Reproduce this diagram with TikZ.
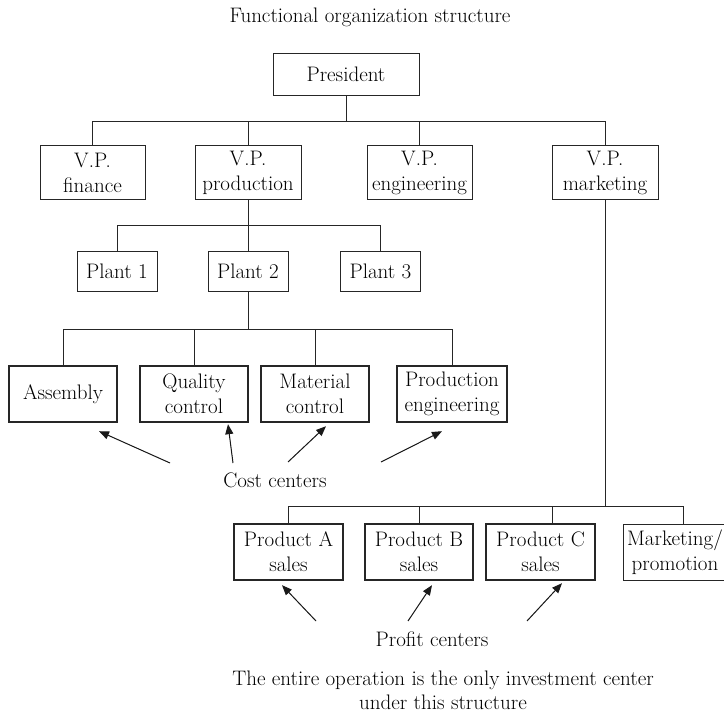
\documentclass[tikz,border=0pt]{standalone}
\usepackage{fontspec}
\usetikzlibrary{arrows.meta,calc}
\begin{document}
\begin{tikzpicture}[x=1pt,y=-1pt,
  txt/.style={font=\fontsize{21}{25}\selectfont, align=center, inner sep=0pt, text=black},
  box/.style={txt, draw=black!85, line width=0.9pt, inner sep=0pt},
  thickbox/.style={box, line width=2.4pt},
  conn/.style={draw=black!85, line width=0.9pt},
  arr/.style={draw=black!90, fill=black!90, line width=1pt, -{Triangle[length=10pt,width=8pt]}}]
\useasboundingbox (0,0) rectangle (724,714);
% title
\node[txt] (title) at (370,17) {Functional organization structure};
% president
\node[box, minimum width=146pt, minimum height=42pt] (pres) at (346,74) {President};
% VPs
\node[box, minimum width=105pt, minimum height=54pt] (vpf) at (92.5,172.5) {V.P.\\finance};
\node[box, minimum width=106pt, minimum height=54pt] (vpp) at (248,172.5) {V.P.\\production};
\node[box, minimum width=105pt, minimum height=54pt] (vpe) at (419.5,172.5) {V.P.\\engineering};
\node[box, minimum width=106pt, minimum height=54pt] (vpm) at (605,172.5) {V.P.\\marketing};
\coordinate (bus1) at (346,121);
\draw[conn] (pres.south) -- (bus1);
\foreach \n in {vpf,vpp,vpe,vpm} \draw[conn] (\n.north) |- (bus1);
% plants
\node[box, minimum width=80pt, minimum height=40pt] (p1) at (117,271) {Plant 1};
\node[box, minimum width=80pt, minimum height=40pt] (p2) at (248,271) {Plant 2};
\node[box, minimum width=80pt, minimum height=40pt] (p3) at (380.5,271) {Plant 3};
\coordinate (bus2) at (248,225);
\draw[conn] (vpp.south) -- (bus2);
\foreach \n in {p1,p2,p3} \draw[conn] (\n.north) |- (bus2);
% departments
\node[thickbox, minimum width=108pt, minimum height=56pt] (asm) at (63,394) {Assembly};
\node[thickbox, minimum width=108pt, minimum height=56pt] (qc) at (194,394) {Quality\\control};
\node[thickbox, minimum width=108pt, minimum height=56pt] (mc) at (315,394) {Material\\control};
\node[thickbox, minimum width=110pt, minimum height=56pt] (pe) at (452,394) {Production\\engineering};
\coordinate (bus3) at (248,329);
\draw[conn] (p2.south) -- (bus3);
\foreach \n in {asm,qc,mc,pe} \draw[conn] (\n.north) |- (bus3);
% cost centers
\node[txt] (cost) at (275,480) {Cost centers};
\coordinate (c1) at (170,463);
\coordinate (c2) at (233,463);
\coordinate (c3) at (288,462);
\coordinate (c4) at (381,462);
\draw[arr] (c1) -- ($(asm.south)+(36,8)$);
\draw[arr] (c2) -- ($(qc.south)+(34,1)$);
\draw[arr] (c3) -- ($(mc.south)+(11,3)$);
\draw[arr] (c4) -- ($(pe.south)+(-10,8)$);
% marketing
\node[thickbox, minimum width=109pt, minimum height=56pt] (pa) at (288.5,552) {Product A\\sales};
\node[thickbox, minimum width=108pt, minimum height=56pt] (pb) at (419,552) {Product B\\sales};
\node[thickbox, minimum width=109pt, minimum height=56pt] (pc) at (540.5,552) {Product C\\sales};
\node[box, minimum width=104pt, minimum height=56pt] (mp) at (675,552) {Marketing/\\promotion};
\coordinate (bus4) at (605,506);
\draw[conn] (vpm.south) -- (bus4);
\draw[conn] (pa.north) |- (bus4);
\draw[conn] (pb.north) |- (bus4);
\draw[conn] ($(pc.north)+(11.5,0)$) |- (bus4);
\draw[conn] ($(mp.north)+(8,0)$) |- (bus4);
% profit centers
\node[txt] (profit) at (432,639) {Profit centers};
\coordinate (d1) at (316,621);
\coordinate (d2) at (408,621);
\coordinate (d3) at (527,621);
\draw[arr] (d1) -- ($(pa.south)+(-6.5,4)$);
\draw[arr] (d2) -- ($(pb.south)+(13,4)$);
\draw[arr] (d3) -- ($(pc.south)+(21.5,2)$);
% note
\node[txt, font=\fontsize{21}{24}\selectfont] (note) at (443,690) {The entire operation is the only investment center\\under this structure};
\end{tikzpicture}
\end{document}
